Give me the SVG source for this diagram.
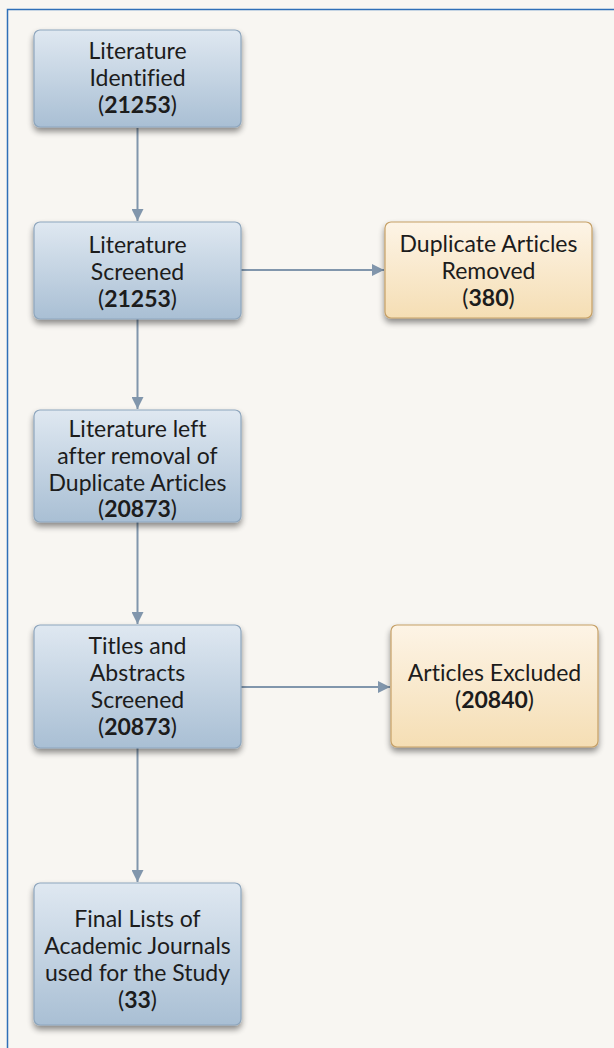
<svg xmlns="http://www.w3.org/2000/svg" width="614" height="1048" viewBox="0 0 614 1048">
<defs>
<linearGradient id="gBlue" x1="0" y1="0" x2="0" y2="1">
<stop offset="0" stop-color="#dfe8f1"/>
<stop offset="1" stop-color="#a9bfd4"/>
</linearGradient>
<linearGradient id="gOrange" x1="0" y1="0" x2="0" y2="1">
<stop offset="0" stop-color="#fdf4e6"/>
<stop offset="1" stop-color="#f5deb4"/>
</linearGradient>
<filter id="shadow" x="-10%" y="-10%" width="120%" height="130%">
<feGaussianBlur in="SourceAlpha" stdDeviation="3"/>
<feOffset dx="0" dy="4" result="b"/>
<feComponentTransfer><feFuncA type="linear" slope="0.45"/></feComponentTransfer>
<feMerge><feMergeNode/><feMergeNode in="SourceGraphic"/></feMerge>
</filter>
<marker id="arrow" viewBox="0 0 10 10" refX="10" refY="5" markerWidth="6" markerHeight="6" markerUnits="strokeWidth" orient="auto">
<path d="M0,0 L10,5 L0,10 Z" fill="#8196ac"/>
</marker>
<style>
.blue{fill:url(#gBlue);stroke:#8ea6bd;stroke-width:1.2;filter:url(#shadow)}
.orange{fill:url(#gOrange);stroke:#c6a066;stroke-width:1.2;filter:url(#shadow)}
text{font-family:Lato,"Open Sans","Liberation Sans",sans-serif;font-size:23px;fill:#1c1c1c;text-anchor:middle;font-variant-ligatures:none;font-feature-settings:"liga" 0,"clig" 0}
.b{font-weight:bold}
.conn{stroke:#8196ac;stroke-width:2;fill:none;marker-end:url(#arrow)}
</style>
</defs>
<rect x="0" y="0" width="614" height="1048" fill="#f8f6f2"/>
<path d="M7.5,1048 V9.5 H614" fill="none" stroke="#2f6fb8" stroke-width="1.5"/>
<g id="connectors">
<line class="conn" x1="137.5" y1="128" x2="137.5" y2="221"/>
<line class="conn" x1="241" y1="270" x2="384" y2="270"/>
<line class="conn" x1="137.5" y1="319" x2="137.5" y2="409"/>
<line class="conn" x1="137.5" y1="522" x2="137.5" y2="624"/>
<line class="conn" x1="241" y1="687" x2="390" y2="687"/>
<line class="conn" x1="137.5" y1="748" x2="137.5" y2="882"/>
</g>
<g id="n1">
<rect class="blue" x="34" y="30" width="207" height="97" rx="6"/>
<text x="137.5" y="59">Literature</text>
<text x="137.5" y="86">Identified</text>
<text x="137.5" y="113">(<tspan class="b">21253</tspan>)</text>
</g>
<g id="n2">
<rect class="blue" x="34" y="222" width="207" height="97" rx="6"/>
<text x="137.5" y="253">Literature</text>
<text x="137.5" y="280">Screened</text>
<text x="137.5" y="307">(<tspan class="b">21253</tspan>)</text>
</g>
<g id="n3">
<rect class="orange" x="385" y="222" width="207" height="96" rx="6"/>
<text x="488.5" y="252">Duplicate Articles</text>
<text x="488.5" y="279">Removed</text>
<text x="488.5" y="306">(<tspan class="b">380</tspan>)</text>
</g>
<g id="n4">
<rect class="blue" x="34" y="410" width="207" height="112" rx="6"/>
<text x="137.5" y="437">Literature left</text>
<text x="137.5" y="464">after removal of</text>
<text x="137.5" y="491">Duplicate Articles</text>
<text x="137.5" y="517">(<tspan class="b">20873</tspan>)</text>
</g>
<g id="n5">
<rect class="blue" x="34" y="625" width="207" height="123" rx="6"/>
<text x="137.5" y="654">Titles and</text>
<text x="137.5" y="681">Abstracts</text>
<text x="137.5" y="708">Screened</text>
<text x="137.5" y="735">(<tspan class="b">20873</tspan>)</text>
</g>
<g id="n6">
<rect class="orange" x="391" y="625" width="207" height="122" rx="6"/>
<text x="494.5" y="681">Articles Excluded</text>
<text x="494.5" y="708">(<tspan class="b">20840</tspan>)</text>
</g>
<g id="n7">
<rect class="blue" x="34" y="883" width="207" height="142" rx="6"/>
<text x="137.5" y="927">Final Lists of</text>
<text x="137.5" y="954">Academic Journals</text>
<text x="137.5" y="981">used for the Study</text>
<text x="137.5" y="1008">(<tspan class="b">33</tspan>)</text>
</g>
</svg>
